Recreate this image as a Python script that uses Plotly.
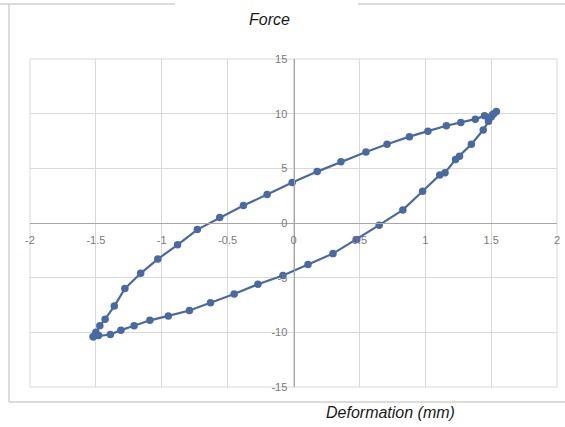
import plotly.graph_objects as go

# Hysteresis loop data (Deformation in mm, Force)
upper_def = [-1.52, -1.50, -1.47, -1.43, -1.36, -1.28, -1.16, -1.03, -0.88, -0.73, -0.56, -0.38,
             -0.20, -0.01, 0.18, 0.36, 0.55, 0.71, 0.88, 1.02, 1.16, 1.27, 1.38, 1.45, 1.51, 1.54]
upper_force = [-10.4, -10.0, -9.4, -8.8, -7.6, -6.0, -4.6, -3.3, -2.0, -0.6, 0.5, 1.6,
               2.6, 3.7, 4.7, 5.6, 6.5, 7.2, 7.9, 8.4, 8.9, 9.2, 9.5, 9.8, 9.9, 10.2]
lower_def = [1.52, 1.50, 1.48, 1.44, 1.35, 1.26, 1.23, 1.15, 1.11, 0.98, 0.83, 0.65, 0.48, 0.30,
             0.11, -0.08, -0.27, -0.45, -0.63, -0.79, -0.95, -1.09, -1.21, -1.31, -1.39, -1.48, -1.52]
lower_force = [10.0, 9.7, 9.3, 8.5, 7.2, 6.1, 5.8, 4.6, 4.4, 2.9, 1.2, -0.2, -1.5, -2.8,
               -3.8, -4.8, -5.6, -6.5, -7.3, -8.0, -8.5, -8.9, -9.4, -9.8, -10.2, -10.3, -10.4]

x_ticks = [-2, -1.5, -1, -0.5, 0, 0.5, 1, 1.5, 2]
x_tick_labels = ["-2", "-1.5", "-1", "-0.5", "0", "0.5", "1", "1.5", "2"]
y_ticks = [-15, -10, -5, 0, 5, 10, 15]
y_tick_labels = ["-15", "-10", "-5", "0", "5", "10", "15"]

deformation = upper_def + lower_def
force = upper_force + lower_force

color = "#4a69a2"
grid = "#d9d9d9"
tickfont = dict(family="Liberation Sans, Arial, sans-serif", size=11, color="#7a7a7a")

fig = go.Figure()
fig.add_trace(go.Scatter(
    x=deformation, y=force, mode="lines+markers",
    line=dict(color=color, width=2.2),
    marker=dict(color=color, size=7.5),
    showlegend=False,
))

fig.update_layout(
    width=565, height=427,
    margin=dict(l=30, r=8, t=59, b=40, autoexpand=False),
    paper_bgcolor="white", plot_bgcolor="white",
    xaxis=dict(range=[-2, 2], tickvals=x_ticks, ticktext=x_tick_labels,
               showgrid=True, gridcolor=grid, gridwidth=1, zeroline=False,
               showline=True, linecolor="#a6a6a6", linewidth=1,
               anchor="free", position=0.5, ticks="", tickfont=tickfont,
               ticklabelstandoff=7, automargin=False),
    yaxis=dict(range=[-15, 15], tickvals=y_ticks, ticktext=y_tick_labels,
               showgrid=True, gridcolor=grid, gridwidth=1, zeroline=False,
               showline=True, linecolor="#a6a6a6", linewidth=1,
               anchor="free", position=0.5, ticks="", tickfont=tickfont,
               ticklabelstandoff=4, automargin=False),
    shapes=[
        dict(type="rect", xref="paper", yref="paper", x0=0, x1=1, y0=0, y1=1,
             line=dict(color=grid, width=1), layer="below"),
        # outer chart border
        dict(type="line", xref="paper", yref="paper", x0=-0.0398, x1=-0.0398, y0=-0.0457, y1=1.1677,
             line=dict(color="#d0d0d0", width=1.5)),
        dict(type="line", xref="paper", yref="paper", x0=-0.0398, x1=1.03, y0=-0.0457, y1=-0.0457,
             line=dict(color="#d0d0d0", width=1.5)),
        dict(type="line", xref="paper", yref="paper", x0=-0.06, x1=0.275, y0=1.1677, y1=1.1677,
             line=dict(color="#d0d0d0", width=1.5)),
        dict(type="line", xref="paper", yref="paper", x0=0.622, x1=1.03, y0=1.1677, y1=1.1677,
             line=dict(color="#d0d0d0", width=1.5)),
    ],
    annotations=[
        dict(text="<i>Force</i>", xref="paper", yref="paper", x=0.455, y=1.119,
             showarrow=False, xanchor="center", yanchor="middle",
             font=dict(family="Liberation Sans, Arial, sans-serif", size=16, color="#1a1a1a")),
        dict(text="<i>Deformation (mm)</i>", xref="paper", yref="paper", x=0.685, y=-0.079,
             showarrow=False, xanchor="center", yanchor="middle",
             font=dict(family="Liberation Sans, Arial, sans-serif", size=16, color="#1a1a1a")),
    ],
)

fig.write_html("out.html", config={"displayModeBar": False},
               post_script="document.body.style.margin='0';document.body.style.overflow='hidden';")
